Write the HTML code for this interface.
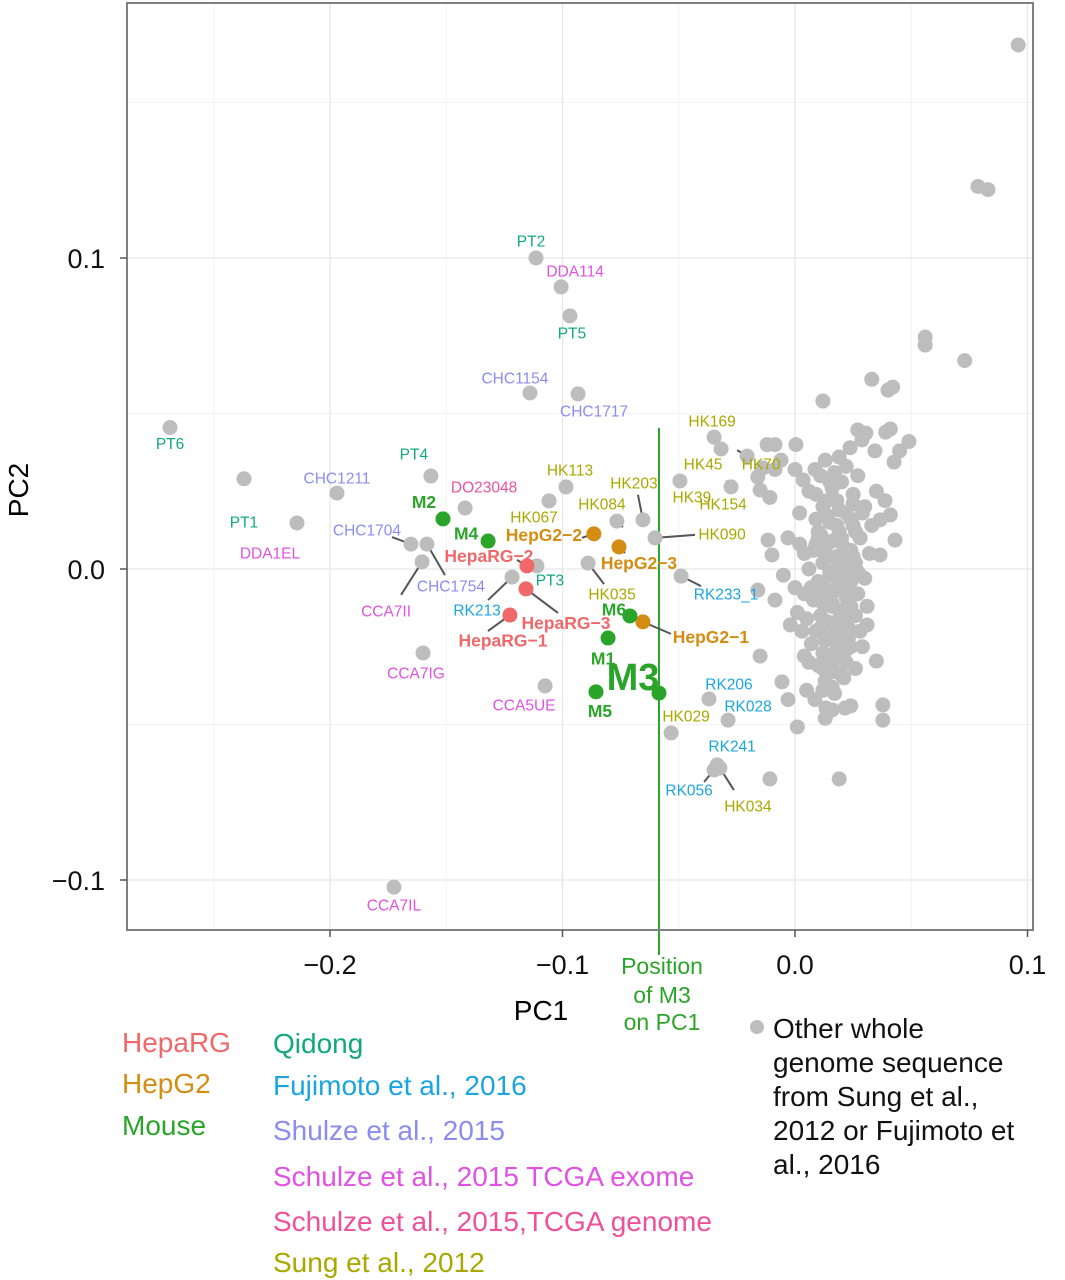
<!DOCTYPE html>
<html><head><meta charset="utf-8"><style>
html,body{margin:0;padding:0;background:#fff;}
svg{display:block;font-family:"Liberation Sans",Arial,sans-serif;}
</style></head><body>
<svg id="chart" width="1065" height="1280" viewBox="0 0 1065 1280" xmlns="http://www.w3.org/2000/svg">
<g id="grid"></g>
<g id="marks"></g>
<rect x="127" y="3" width="906" height="927" fill="none" stroke="#7f7f7f" stroke-width="2"/>
<g id="axes"></g>
<text x="541" y="1020" font-size="28" text-anchor="middle">PC1</text>
<text x="28" y="490" font-size="28" text-anchor="middle" transform="rotate(-90 28 490)">PC2</text>
<g fill="#2aa52a" font-size="23" text-anchor="middle">
<text x="662" y="974">Position</text><text x="662" y="1003">of M3</text><text x="662" y="1030">on PC1</text>
</g>
<g font-size="28">
<text x="122" y="1052" fill="#f0686a">HepaRG</text>
<text x="122" y="1093" fill="#d58c12">HepG2</text>
<text x="122" y="1135" fill="#2aa52a">Mouse</text>
<text x="273" y="1053" fill="#12a87e">Qidong</text>
<text x="273" y="1095" fill="#1ba5e0">Fujimoto et al., 2016</text>
<text x="273" y="1140" fill="#8b8cf0">Shulze et al., 2015</text>
<text x="273" y="1186" fill="#e052e0">Schulze et al., 2015 TCGA exome</text>
<text x="273" y="1231" fill="#f0509a">Schulze et al., 2015,TCGA genome</text>
<text x="273" y="1272" fill="#a8a800">Sung et al., 2012</text>
<circle cx="757" cy="1027" r="7" fill="#bdbdbd"/>
<g fill="#111"><text x="773" y="1038">Other whole</text><text x="773" y="1072">genome sequence</text><text x="773" y="1106">from Sung et al.,</text><text x="773" y="1140">2012 or Fujimoto et</text><text x="773" y="1174">al., 2016</text></g>
</g>
</svg>
<script>
const xTicks=[-0.2,-0.1,0.0,0.1];
const xTickLabels=["\u22120.2","\u22120.1","0.0","0.1"];
const yTicks=[0.1,0.0,-0.1];
const yTickLabels=["0.1","0.0","\u22120.1"];
const xMinor=[-0.25,-0.15,-0.05,0.05];
const yMinor=[0.15,0.05,-0.05];
const m3Position=-0.0585;
const otherX=[0.096,0.0787,0.083,0.056,0.056,0.073,0.033,0.042,0.040,0.012,0.049,0.041,0.039,0.0305,-0.012,-0.0086,0.0004,-0.006,-0.0138,-0.0086,-0.016,-0.015,-0.0108,0.000,0.0035,0.0086,0.019,0.0237,0.027,0.0288,0.0344,0.0426,0.045,0.0387,0.041,0.0366,0.043,0.0366,-0.0116,-0.0099,-0.016,-0.0086,-0.015,-0.0056,-0.003,0.001,0.035,0.0378,0.0378,-0.0108,0.019,0.005,0.0086,0.013,0.016,0.0215,0.024,0.017,0.0133,
0.012,0.018,0.022,0.015,0.025,0.010,0.020,0.028,0.014,0.008,0.024,0.018,0.012,0.026,0.020,0.015,0.010,0.024,0.030,0.018,0.013,0.022,0.027,0.008,0.016,0.021,0.011,0.026,0.005,0.017,0.023,0.009,0.014,0.028,0.019,0.007,0.024,0.012,0.017,0.022,0.010,0.015,0.020,0.013,0.003,0.001,0.004,0.006,0.004,0.009,0.006,0.002,0.016,0.020,0.011,0.025,0.030,0.033,0.032,0.031,0.029,0.026,0.004,-0.002,0.000,0.002,0.013,0.017,0.022,0.027,0.035,0.009,-0.003,-0.005,0.018,0.012,0.019,0.023,
0.014,0.019,0.024,0.011,0.016,0.021,0.026,0.013,0.018,0.023,0.009,0.015,0.020,0.025,0.012,0.017,0.022,0.027,0.010,0.016,0.021,0.014,0.019,0.024,0.011,0.017,0.022,0.013,0.018,0.023,0.015,0.020,0.012,0.017,0.022,0.016,0.021,0.014,0.019,0.007,0.029,0.031,0.008,0.006,0.028,0.010,0.025,0.015,0.020,0.012];
const otherY=[0.1685,0.123,0.122,0.0746,0.072,0.067,0.061,0.0585,0.0575,0.054,0.041,0.045,0.044,0.0437,0.040,0.040,0.040,0.035,0.0325,0.032,0.0296,0.0254,0.023,0.032,0.0286,0.032,0.036,0.039,0.0447,0.0415,0.038,0.0344,0.038,0.022,0.0174,0.0158,0.0093,0.0045,0.0093,0.0045,-0.0068,-0.010,-0.028,-0.0363,-0.042,-0.0508,-0.0296,-0.0437,-0.0486,-0.0675,-0.0675,-0.039,-0.042,-0.048,-0.0453,-0.0447,-0.044,-0.040,-0.0447,
0.020,0.022,0.018,0.015,0.014,0.012,0.010,0.010,0.008,0.006,0.006,0.004,0.002,0.002,0.000,-0.002,-0.004,-0.004,-0.003,-0.006,-0.008,-0.009,-0.008,-0.010,-0.012,-0.014,-0.015,-0.015,-0.016,-0.018,-0.019,-0.020,-0.022,-0.020,-0.024,-0.024,-0.025,-0.027,-0.029,-0.030,-0.031,-0.033,-0.034,-0.036,-0.020,-0.014,-0.008,0.000,0.005,0.016,0.025,0.018,0.026,0.028,0.030,0.024,0.020,0.014,0.005,-0.012,-0.025,-0.032,-0.028,-0.018,-0.006,0.008,0.035,0.031,0.033,0.030,0.025,0.024,0.010,-0.002,0.014,-0.011,-0.021,0.000,
0.017,0.019,0.016,0.011,0.009,0.007,0.012,0.005,0.003,0.001,0.008,-0.001,-0.003,0.004,-0.005,-0.007,-0.006,-0.001,-0.009,-0.011,-0.013,-0.017,-0.016,-0.012,-0.019,-0.021,-0.018,-0.023,-0.026,-0.022,-0.028,-0.027,-0.032,-0.033,-0.026,-0.038,-0.035,0.022,0.012,-0.006,0.018,-0.018,-0.006,-0.030,-0.002,0.010,0.021,0.028,0.004,-0.039];
const sampleNames=["PT6","PT1","DDA1EL","CHC1211","PT4","DO23048","CHC1704","CHC1754","CCA7II","CCA7IG","CCA7IL","CCA5UE","PT2","DDA114","PT5","CHC1154","CHC1717","HK113","HK067","HK084","HK203","HK090","HK035","RK233_1","HK169","HK45","HK70","HK39","HK154","RK213","PT3","HepaRG\u22122","HepaRG\u22123","HepaRG\u22121","M2","M4","HepG2\u22122","HepG2\u22123","HepG2\u22121","M6","M1","M3","M5","HK029","RK206","RK028","RK241","RK056","HK034"];
const sampleX=[-0.2688,-0.237,-0.2142,-0.197,-0.1566,-0.1419,-0.1652,-0.1583,-0.1604,-0.16,-0.1725,-0.1075,-0.1114,-0.1006,-0.0968,-0.114,-0.0933,-0.0985,-0.1058,-0.0766,-0.0654,-0.0602,-0.089,-0.049,-0.0348,-0.0318,-0.0206,-0.0495,-0.0275,-0.1217,-0.111,-0.1153,-0.1157,-0.1226,-0.1514,-0.132,-0.0865,-0.0757,-0.0654,-0.071,-0.0804,-0.0585,-0.0856,-0.0533,-0.037,-0.0288,-0.0335,-0.0348,-0.0323];
const sampleY=[0.0455,0.029,0.0148,0.0244,0.0299,0.0196,0.008,0.008,0.0023,-0.027,-0.1023,-0.0376,0.1,0.0907,0.0814,0.0566,0.0563,0.0264,0.0219,0.0154,0.0158,0.01,0.0019,-0.0023,0.0424,0.0386,0.0363,0.0283,0.0264,-0.0026,0.001,0.001,-0.0064,-0.0148,0.0161,0.009,0.0113,0.0071,-0.017,-0.0151,-0.0222,-0.0399,-0.0395,-0.0527,-0.0418,-0.0486,-0.063,-0.0646,-0.064];
const sampleGroup=["qd","qd","ex","sh","qd","ge","sh","sh","ex","ex","ex","ex","qd","ex","qd","sh","sh","su","su","su","su","su","su","fu","su","su","su","su","su","fu","qd","rg","rg","rg","mo","mo","g2","g2","g2","mo","mo","mo","mo","su","fu","fu","fu","fu","su"];
// label layout offsets in px (layout, not data)
const layout={PT6:[0,16],PT1:[0,43],DDA1EL:[-27,30],CHC1211:[0,-15],PT4:[-17,-22],DO23048:[19,-21],CHC1704:[-44,-14,-19,-7],CHC1754:[24,42,18,31],CCA7II:[-36,49,-21,33],CCA7IG:[-7,20],CCA7IL:[0,18],CCA5UE:[-21,19],PT2:[-5,-17],DDA114:[14,-16],PT5:[2,17],CHC1154:[-15,-15],CHC1717:[16,17],HK113:[4,-17],HK067:[-15,16],HK084:[-15,-17,6,6],HK203:[-9,-37,-5,-25],HK090:[67,-4,40,-3],HK035:[24,31,16,21],RK233_1:[45,18,20,10],HK169:[-2,-16,3,5],HK45:[-18,15],HK70:[14,8,-10,-6],HK39:[12,16],HK154:[-8,17,-5,-6],RK213:[-35,33,-24,23],PT3:[13,14],"HepaRG\u22122":[-38,-10,-10,-6],"HepaRG\u22123":[40,34,32,24],"HepaRG\u22121":[-7,25,-22,16],M2:[-19,-17],M4:[-22,-8],"HepG2\u22122":[-50,1,-12,4],"HepG2\u22123":[20,16,6,6],"HepG2\u22121":[68,15,28,12],M6:[-16,-7],M1:[-5,20],M3:[-26,-17],M5:[4,19],HK029:[15,-17],RK206:[20,-15],RK028:[20,-14],RK241:[15,-19,-3,-5],RK056:[-25,20,-10,12],HK034:[28,38,14,22]};
const colors={qd:"#12a87e",fu:"#1ba5e0",sh:"#8b8cf0",ex:"#e052e0",ge:"#f0509a",su:"#a8a800",rg:"#f0686a",g2:"#d58c12",mo:"#2aa52a"};
const NS="http://www.w3.org/2000/svg";
const X=v=>795+v*2325, Y=v=>569-v*3110;
function mk(tag,attrs,parent){const e=document.createElementNS(NS,tag);for(const k in attrs)e.setAttribute(k,attrs[k]);parent.appendChild(e);return e;}
const grid=document.getElementById('grid'),marks=document.getElementById('marks'),axes=document.getElementById('axes');
xMinor.forEach(v=>{const l=mk('line',{x1:X(v),x2:X(v),y1:3,y2:930,stroke:'#f3f3f3','stroke-width':1},grid);

});
yMinor.forEach(v=>{const l=mk('line',{x1:127,x2:1033,y1:Y(v),y2:Y(v),stroke:'#f3f3f3','stroke-width':1},grid);

});
xTicks.forEach((v,i)=>{const l=mk('line',{x1:X(v),x2:X(v),y1:3,y2:930,stroke:'#e6e6e6','stroke-width':1.3},grid);


const t=mk('line',{x1:X(v),x2:X(v),y1:930,y2:937,stroke:'#555','stroke-width':1.5},axes);


const tx=mk('text',{x:X(v),y:974,'font-size':27,'text-anchor':'middle',fill:'#111'},axes);tx.textContent=xTickLabels[i];

});
yTicks.forEach((v,i)=>{const l=mk('line',{x1:127,x2:1033,y1:Y(v),y2:Y(v),stroke:'#e6e6e6','stroke-width':1.3},grid);


const t=mk('line',{x1:120,x2:127,y1:Y(v),y2:Y(v),stroke:'#555','stroke-width':1.5},axes);


const tx=mk('text',{x:105,y:Y(v)+10,'font-size':27,'text-anchor':'end',fill:'#111'},axes);tx.textContent=yTickLabels[i];

});
const vl=mk('line',{x1:X(m3Position),x2:X(m3Position),y1:428,y2:955,stroke:'#2aa52a','stroke-width':2},marks);


otherX.forEach((v,i)=>{const c=mk('circle',{cx:X(v),cy:Y(otherY[i]),r:7.5,fill:'#bdbdbd'},marks);

});
const bold={rg:1,g2:1,mo:1};
sampleNames.forEach((n,i)=>{const px=X(sampleX[i]),py=Y(sampleY[i]),g=sampleGroup[i],L=layout[n]||[0,-15];
if(L.length>2){const ln=mk('line',{x1:px,y1:py,x2:px+L[2],y2:py+L[3],stroke:'#555','stroke-width':2},marks);

}
const c=mk('circle',{cx:px,cy:py,r:7.5,fill:bold[g]?colors[g]:'#bdbdbd'},marks);


const fs=n==='M3'?38:(bold[g]?17.5:15.5);
const t=mk('text',{x:px+L[0],y:py+L[1]+fs*0.36,'font-size':fs,'text-anchor':'middle',fill:colors[g],'font-weight':bold[g]?'bold':'normal'},marks);t.textContent=n;

});
</script>
</body></html>
